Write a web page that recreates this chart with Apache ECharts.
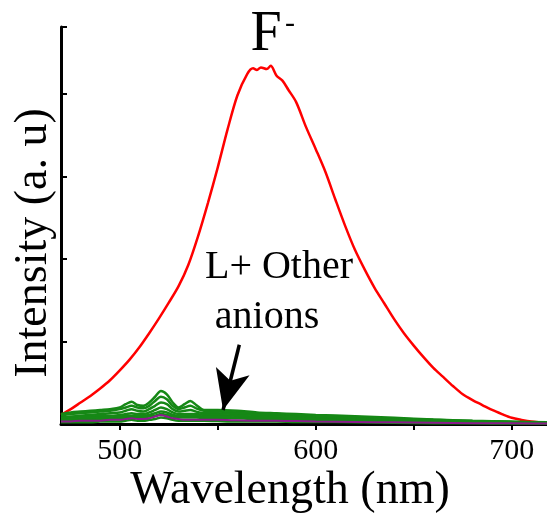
<!DOCTYPE html>
<html>
<head>
<meta charset="utf-8">
<script src="https://cdn.jsdelivr.net/npm/echarts@6/dist/echarts.min.js"></script>
<style>
html,body{margin:0;padding:0;background:#fff;}
#chart{width:547px;height:517px;}
</style>
</head>
<body>
<div id="chart"></div>
<script>
// Red curve (L + F-)
const redX = [470,475,480,485,490,495,500,505,510,515,520,525,530,535,540,545,550,555,560,565,568,570,572,575,577,580,583,586,590,595,600,605,610,615,620,625,630,635,640,645,650,655,660,665,670,675,680,685,690,695,700,705,710,715,718];
const redY = [11,18,26,34,43,53,65,78,93,110,128,147,167,193,228,268,311,357,398,424,431,429,432,430,434,422,416,405,390,360,333,305,272,240,211,187,165,146,127,110,95,81,68,57,46,36,29,23,17,12,7.5,5,3,2,1.5];

// Green / purple curves (L + other anions)
const greenX = [470,475,480,485,490,495,500,503,506,509,512,515,518,521,524,527,530,533,536,539,543,550,560,570,580,590,600,620,640,660,680,700,718];
const g1 = [12,14,15,16,17,18,20,24,27,23,22,26,33,40,36,26,20,24,28,23,17,17,16,14,13,12,11,9.5,7.5,5.5,4,3,2];
const g2 = [10,12,13,14,15,16,18,20,22,20,19,22,28,33,30,22,18,20,22,19,16,15,14,13,12,11,10,8.5,6.5,5,3.5,2.5,2];
const g3 = [8,9,10,11,12,13,14,16,18,16,15,18,22,26,24,18,15,16,17,15,13,13,12,11,10,9,8,7,5.5,4,3,2,1.5];
const g4 = [7,8,9,9,10,10,11,12,13,12,12,14,17,20,18,14,12,12,12,12,11,11,10,9,9,8,7,6,5,4,3,2,1.5];
const g5 = [5,6,7,7,8,8,9,10,10,10,10,11,13,15,14,11,10,10,10,10,9,9,8,8,7,7,6,5,4,3,2.5,2,1];
const g6 = [4,5,5,5,6,6,7,7,8,8,8,9,10,12,11,9,8,8,8,8,7,7,7,6,6,5,5,4,3,2.5,2,1.5,1];
const g7 = [2,2,2,2,3,3,3,4,5,4,4,5,6,8,7,5,4,4,4,4,4,3.5,3,3,3,2.5,2.5,2,1.5,1,1,0.5,0.5];
const purple = [3,3,4,4,4,5,5,6,7,6,6,7,9,11,9,7,6,5,5,5,5,5,4.5,4,4,3.5,3,2.5,2,1.5,1,1,0.5];

// Axis ticks / labels
const xTickValues = [500,550,600,650,700];
const xLabelValues = [500,600,700];

// Arrow annotation (data coords: start, tip)
const arrowStart = [561, 96];
const arrowTip = [552.7, 17];

const zip = (xs, ys) => xs.map((x, i) => [x, ys[i]]);
const font = '"Liberation Serif", "Times New Roman", serif';

const greenSeries = [g1, g2, g3, g4, g5, g6, g7].map((arr, i) => ({
  type: 'line', name: 'g' + (i + 1), data: zip(greenX, arr),
  showSymbol: false, smooth: 0.3,
  lineStyle: { color: '#168816', width: 2.5 }, z: 3
}));

const chart = echarts.init(document.getElementById('chart'), null, { renderer: 'canvas' });
chart.setOption({
  animation: false,
  backgroundColor: '#ffffff',
  textStyle: { fontFamily: font },
  grid: { left: 61, right: 0, top: 27, bottom: 93, containLabel: false },
  xAxis: {
    type: 'value', min: 470, max: 718,
    axisLine: { show: true, onZero: false, lineStyle: { color: '#000', width: 3 } },
    axisTick: { show: true, inside: false, length: 6, lineStyle: { color: '#000', width: 2 }, customValues: xTickValues },
    axisLabel: { show: true, customValues: xLabelValues, margin: 12, color: '#000', fontFamily: font, fontSize: 30 },
    splitLine: { show: false }
  },
  yAxis: {
    type: 'value', min: 0, max: 481, interval: 100,
    axisLine: { show: true, lineStyle: { color: '#000', width: 3 } },
    axisTick: { show: true, inside: true, length: 6, lineStyle: { color: '#000', width: 2 } },
    axisLabel: { show: false },
    splitLine: { show: false }
  },
  series: [
    {
      type: 'line', name: 'F-', data: zip(redX, redY), showSymbol: false, smooth: 0.3,
      lineStyle: { color: '#ff0000', width: 2.5 }, z: 2,
      markLine: {
        silent: true, animation: false,
        symbol: ['none', 'arrow'], symbolSize: [26, 40],
        label: { show: false },
        lineStyle: { color: '#000', width: 3.5, type: 'solid' },
        data: [[{ coord: arrowStart }, { coord: arrowTip }]]
      }
    },
    ...greenSeries,
    {
      type: 'line', name: 'purple', data: zip(greenX, purple), showSymbol: false, smooth: 0.3,
      lineStyle: { color: '#8b1a8b', width: 2 }, z: 4
    }
  ],
  graphic: [
    { type: 'text', x: 266, y: 35, style: { text: 'F', font: '56px "Liberation Serif"', fill: '#000', align: 'center', verticalAlign: 'middle' } },
    { type: 'text', x: 290, y: 24, style: { text: '-', font: '30px "Liberation Serif"', fill: '#000', align: 'center', verticalAlign: 'middle' } },
    { type: 'text', x: 279, y: 267, style: { text: 'L+ Other', font: '40px "Liberation Serif"', fill: '#000', align: 'center', verticalAlign: 'middle' } },
    { type: 'text', x: 267, y: 317, style: { text: 'anions', font: '40px "Liberation Serif"', fill: '#000', align: 'center', verticalAlign: 'middle' } },
    { type: 'text', x: 290, y: 491, style: { text: 'Wavelength (nm)', font: '46px "Liberation Serif"', fill: '#000', align: 'center', verticalAlign: 'middle' } },
    { type: 'text', x: 34, y: 243, rotation: Math.PI / 2, style: { text: 'Intensity (a. u)', font: '46px "Liberation Serif"', fill: '#000', align: 'center', verticalAlign: 'middle' } }
  ]
});
</script>
</body>
</html>
